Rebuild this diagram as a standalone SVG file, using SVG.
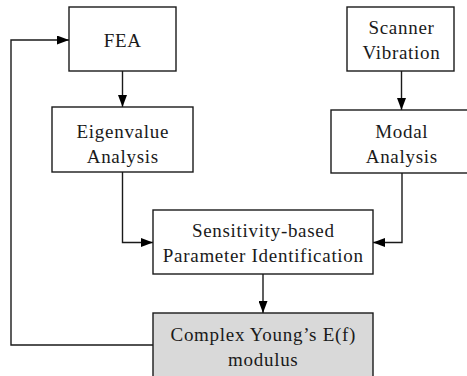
<svg xmlns="http://www.w3.org/2000/svg" width="467" height="376" viewBox="0 0 467 376">
  <style>
    .box { fill: #ffffff; stroke: #1a1a1a; stroke-width: 1.4; }
    .grey { fill: #d9d9d9; }
    .lbl { font-family: "Liberation Serif", "Times New Roman", serif; font-size: 19px; letter-spacing: 0.7px; fill: #1a1a1a; text-anchor: middle; }
    .conn { fill: none; stroke: #1a1a1a; stroke-width: 1.4; marker-end: url(#arr); }
  </style>
  <defs>
    <marker id="arr" markerUnits="userSpaceOnUse" markerWidth="12" markerHeight="9" refX="12" refY="4.5" orient="auto">
      <path d="M0,0 L12,4.5 L0,9 z" fill="#000"/>
    </marker>
  </defs>
  <rect width="467" height="376" fill="#ffffff"/>
  <g id="connectors">
    <path class="conn" d="M122.5,71 V107"/>
    <path class="conn" d="M401.5,71 V110"/>
    <path class="conn" d="M122.5,172 V242.5 H153"/>
    <path class="conn" d="M402,173 V242.5 H373"/>
    <path class="conn" d="M263,274 V313"/>
    <path class="conn" d="M153,345 H11 V40 H69"/>
  </g>
  <g id="fea">
    <rect class="box" x="69" y="7" width="107" height="64"/>
    <text class="lbl" x="122.8" y="46.5">FEA</text>
  </g>
  <g id="eigen">
    <rect class="box" x="52" y="107" width="141" height="65"/>
    <text class="lbl" x="122.8" y="137.7">Eigenvalue</text>
    <text class="lbl" x="122.8" y="162.7">Analysis</text>
  </g>
  <g id="scanner">
    <rect class="box" x="347" y="7" width="107" height="64"/>
    <text class="lbl" x="401.5" y="34.3">Scanner</text>
    <text class="lbl" x="401.5" y="59.3">Vibration</text>
  </g>
  <g id="modal">
    <rect class="box" x="331" y="110" width="145" height="63"/>
    <text class="lbl" x="401.8" y="137.7">Modal</text>
    <text class="lbl" x="401.8" y="162.7">Analysis</text>
  </g>
  <g id="sensitivity">
    <rect class="box" x="153" y="210" width="220" height="64"/>
    <text class="lbl" x="263.3" y="237.3">Sensitivity-based</text>
    <text class="lbl" x="263.3" y="262.3">Parameter Identification</text>
  </g>
  <g id="complex">
    <rect class="box grey" x="153" y="313" width="220" height="70"/>
    <text class="lbl" x="263.3" y="341">Complex Young’s E(f)</text>
    <text class="lbl" x="263.3" y="366">modulus</text>
  </g>
</svg>
